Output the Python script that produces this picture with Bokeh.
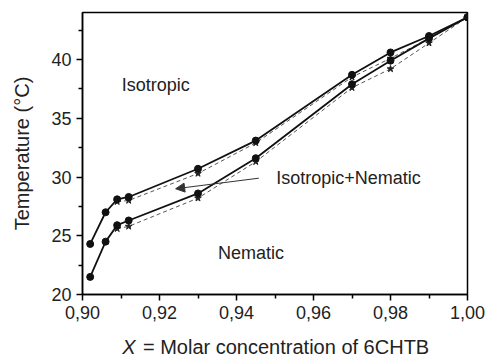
from bokeh.plotting import figure
from bokeh.layouts import column
from bokeh.models import Range1d, FixedTicker, Label, Arrow, NormalHead, CustomJSTickFormatter
from bokeh.core.properties import value
from bokeh.embed import file_html
from bokeh.resources import INLINE

# Data
x_conc = [0.902, 0.906, 0.909, 0.912, 0.930, 0.945, 0.970, 0.980, 0.990, 1.000]
t_upper = [24.3, 27.0, 28.1, 28.3, 30.7, 33.1, 38.7, 40.6, 42.0, 43.6]
t_lower = [21.5, 24.5, 25.9, 26.3, 28.6, 31.6, 37.9, 39.9, 41.8, 43.6]
x_star = [0.909, 0.912, 0.930, 0.945, 0.970, 0.980, 0.990, 1.000]
t_star_upper = [27.9, 28.0, 30.3, 32.9, 38.5, 40.1, 41.8, 43.6]
t_star_lower = [25.6, 25.8, 28.2, 31.3, 37.6, 39.2, 41.4, 43.6]
x_ticks = [0.90, 0.92, 0.94, 0.96, 0.98, 1.00]
y_ticks = [20, 25, 30, 35, 40]

FONT = "Liberation Sans"
TXT = "#222222"
FW = 385  # frame width in px

p = figure(frame_width=FW, frame_height=282, min_border_left=82, min_border_top=12,
           min_border_right=28, min_border_bottom=36,
           x_range=Range1d(0.90, 1.00), y_range=Range1d(20, 44),
           output_backend="svg", toolbar_location=None)
p.grid.visible = False
p.outline_line_color = "black"
p.outline_line_width = 1.5
p.background_fill_color = "white"
p.border_fill_color = "white"

p.xaxis.ticker = FixedTicker(ticks=x_ticks, minor_ticks=[0.91, 0.93, 0.95, 0.97, 0.99])
p.yaxis.ticker = FixedTicker(ticks=y_ticks, minor_ticks=[22.5, 27.5, 32.5, 37.5, 42.5])
p.xaxis.formatter = CustomJSTickFormatter(code="return tick.toFixed(2).replace('.', ',');")
for ax in (p.xaxis, p.yaxis):
    ax.axis_line_width = 1.5
    ax.major_tick_line_width = 1.5
    ax.minor_tick_line_width = 1.5
    ax.major_tick_out = 6
    ax.major_tick_in = 0
    ax.minor_tick_out = 4
    ax.minor_tick_in = 0
    ax.major_label_text_font = FONT
    ax.major_label_text_font_size = "18px"
    ax.major_label_text_color = TXT
    ax.axis_label_text_font = FONT
    ax.axis_label_text_font_size = "20px"
    ax.axis_label_text_font_style = "normal"
    ax.axis_label_text_color = TXT
p.yaxis.axis_label = "Temperature (°C)"
p.yaxis.axis_label_standoff = 15

# Lines
p.line(x_star, t_star_upper, line_color="#555555", line_width=1, line_dash="4 3")
p.line(x_star, t_star_lower, line_color="#555555", line_width=1, line_dash="4 3")
p.scatter(x_star, t_star_upper, marker="star", size=7, color="#222222")
p.scatter(x_star, t_star_lower, marker="star", size=7, color="#222222")
p.line(x_conc, t_upper, line_color="#111111", line_width=1.8)
p.line(x_conc, t_lower, line_color="#111111", line_width=1.8)
p.scatter(x_conc, t_upper, marker="circle", size=7, color="#111111")
p.scatter(x_conc, t_lower, marker="circle", size=7, color="#111111")

# Annotations
p.add_layout(Arrow(end=NormalHead(size=9, fill_color="#333333", line_color="#333333"),
                   x_start=0.9458, y_start=29.9, x_end=0.9242, y_end=29.0,
                   line_color="#333333", line_width=1))
for txt, xx, yy in [("Isotropic", 0.9102, 37.8), ("Nematic", 0.9352, 23.5),
                    ("Isotropic+Nematic", 0.9503, 29.9)]:
    p.add_layout(Label(x=xx, y=yy, text=txt, text_font=FONT, text_font_size="18px",
                       text_color=TXT, text_baseline="middle"))

# X-axis title row (italic X + rest), same x scale as main frame
FW2 = 421
p2 = figure(frame_width=FW2, frame_height=30, min_border_left=82, min_border_right=0,
            min_border_top=0, min_border_bottom=0,
            x_range=Range1d(0.90, 0.90 + 0.10 * FW2 / FW), y_range=Range1d(0, 1),
            output_backend="svg", toolbar_location=None)
p2.axis.visible = False
p2.grid.visible = False
p2.outline_line_color = None
p2.background_fill_color = "white"
p2.border_fill_color = "white"
p2.text(x=[0.9103], y=[0.45], text=["X"], text_font=value(FONT), text_font_size="20px",
        text_font_style="italic", text_color=TXT, text_baseline="middle")
p2.text(x=[0.9157], y=[0.45], text=["= Molar concentration of 6CHTB"], text_font=value(FONT),
        text_font_size="20px", text_color=TXT, text_baseline="middle")

layout = column(p, p2, spacing=0)
open("out.html", "w").write(file_html(layout, INLINE))
